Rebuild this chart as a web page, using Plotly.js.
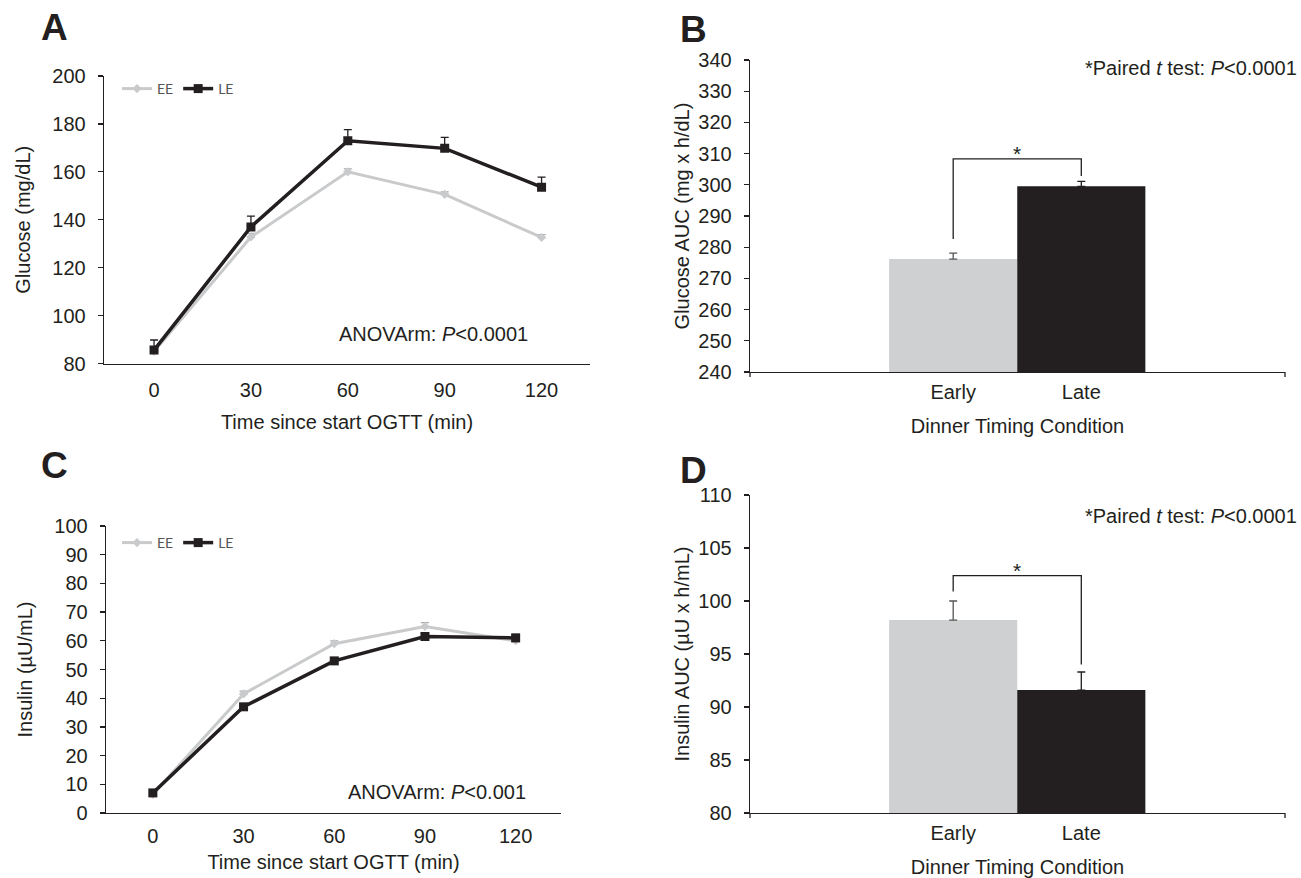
<!DOCTYPE html>
<html>
<head>
<meta charset="utf-8">
<script src="https://cdn.plot.ly/plotly-3.0.1.min.js"></script>
<style>html,body{margin:0;padding:0;background:#fff;}#chart{width:1301px;height:878px;}</style>
</head>
<body>
<div id="chart"></div>
<script>
// ---- data ----
const timeMin = [0, 30, 60, 90, 120];
const glucoseEE = [85, 132.8, 160, 150.6, 132.6];
const glucoseEEerr = [1.2, 1.5, 1.2, 1.0, 1.2];
const glucoseLE = [85.6, 137, 173, 169.8, 153.6];
const glucoseLEerr = [4.2, 4.5, 4.6, 4.6, 4.2];
const insulinEE = [6.5, 41.5, 59, 65, 60];
const insulinEEerr = [0.8, 1.0, 1.0, 1.3, 0.8];
const insulinLE = [7, 37, 53, 61.5, 61];
const insulinLEerr = [0.8, 1.0, 1.0, 1.0, 1.2];
const seriesNames = ['EE', 'LE'];
const conditions = ['Early', 'Late'];
const glucoseAUC = [276.2, 299.5];
const glucoseAUCerr = [1.9, 1.6];
const insulinAUC = [98.2, 91.6];
const insulinAUCerr = [1.8, 1.7];
// significance brackets: [top, left leg end, right leg end]
const bracketB = [308.3, 282.6, 302.8];
const bracketD = [102.4, 100.9, 94.0];

// ---- styling ----
const W = 1301, H = 878;
const INK = '#231f20';
const GRAY = '#c9cacc';
const BARGRAY = '#cfd0d2';
const FONT = 'Liberation Sans, Arial, sans-serif';
const px = v => v / W;
const py = v => 1 - v / H;

function lineTrace(y, err, name, xa, ya, leg, isLE) {
  return {
    x: timeMin, y: y, name: name, type: 'scatter', mode: 'lines+markers',
    xaxis: xa, yaxis: ya, legend: leg, showlegend: true,
    line: {color: isLE ? INK : GRAY, width: isLE ? 3.5 : 3},
    marker: {symbol: isLE ? 'square' : 'diamond', size: isLE ? 9 : 7, color: isLE ? INK : GRAY},
    error_y: {type: 'data', array: err, arrayminus: err.map(() => 0), symmetric: false,
      color: isLE ? INK : '#a9aaac', thickness: 1.3, width: 4}
  };
}
function barTrace(i, vals, errs, xa, ya) {
  return {
    x: [i + 1], y: [vals[i]], type: 'bar', width: 1, xaxis: xa, yaxis: ya, showlegend: false,
    marker: {color: i === 0 ? BARGRAY : INK, line: {width: 0}},
    error_y: {type: 'data', array: [errs[i]], arrayminus: [0], symmetric: false,
      color: i === 0 ? '#555' : INK, thickness: 1.3, width: 4}
  };
}

const traces = [
  lineTrace(glucoseEE, glucoseEEerr, seriesNames[0], 'x', 'y', 'legend', false),
  lineTrace(glucoseLE, glucoseLEerr, seriesNames[1], 'x', 'y', 'legend', true),
  barTrace(0, glucoseAUC, glucoseAUCerr, 'x2', 'y2'),
  barTrace(1, glucoseAUC, glucoseAUCerr, 'x2', 'y2'),
  lineTrace(insulinEE, insulinEEerr, seriesNames[0], 'x3', 'y3', 'legend2', false),
  lineTrace(insulinLE, insulinLEerr, seriesNames[1], 'x3', 'y3', 'legend2', true),
  barTrace(0, insulinAUC, insulinAUCerr, 'x4', 'y4'),
  barTrace(1, insulinAUC, insulinAUCerr, 'x4', 'y4')
];

const axBase = {showgrid: false, zeroline: false, showline: true, linecolor: INK, linewidth: 1.3,
  tickcolor: INK, tickwidth: 1.3, ticklen: 5, fixedrange: true};
const lineX = (dom, anchor, tl, standoff) => Object.assign({}, axBase, {
  domain: dom, anchor: anchor, range: [-15.5, 135], tickvals: timeMin, ticks: 'outside',
  tickcolor: 'rgba(0,0,0,0)', ticklen: tl,
  tickfont: {family: FONT, size: 20, color: INK},
  title: {text: 'Time since start OGTT (min)', font: {family: FONT, size: 20, color: INK}, standoff: standoff}
});
const barX = (dom, anchor, standoff) => Object.assign({}, axBase, {
  domain: dom, anchor: anchor, range: [-0.586, 3.59], tickvals: [1, 2], ticktext: conditions, ticks: 'outside',
  tickcolor: 'rgba(0,0,0,0)', ticklen: 2,
  tickfont: {family: FONT, size: 20, color: INK},
  title: {text: 'Dinner Timing Condition', font: {family: FONT, size: 20, color: INK}, standoff: standoff}
});
const yAx = (dom, anchor, range, dtick, title, standoff) => Object.assign({}, axBase, {
  domain: dom, anchor: anchor, range: range, dtick: dtick, tick0: range[0], ticks: 'outside',
  ticklabelstandoff: 8,
  tickfont: {family: FONT, size: 20, color: INK},
  title: {text: title, font: {family: FONT, size: 20, color: INK}, standoff: standoff}
});
const letter = (t, x, y) => ({text: '<b>' + t + '</b>', x: px(x), y: py(y), xref: 'paper', yref: 'paper',
  xanchor: 'center', yanchor: 'middle', showarrow: false, font: {family: FONT, size: 37, color: INK}});
const note = (t, xr, y) => ({text: t, x: px(xr), y: py(y), xref: 'paper', yref: 'paper',
  xanchor: 'right', yanchor: 'middle', showarrow: false, font: {family: FONT, size: 20, color: INK}});
const legendStyle = (y) => ({orientation: 'h', x: px(117), y: py(y), xanchor: 'left', yanchor: 'middle',
  font: {family: 'Lato, Open Sans, sans-serif', size: 14, color: '#555'}, itemwidth: 30,
  bgcolor: 'rgba(0,0,0,0)', tracegroupgap: 0, itemclick: false});

const layout = {
  width: W, height: H, margin: {l: 0, r: 0, t: 0, b: 0},
  paper_bgcolor: '#fff', plot_bgcolor: 'rgba(0,0,0,0)',
  barmode: 'overlay', showlegend: true,
  xaxis: lineX([px(104), px(590)], 'y', 8, 15),
  yaxis: yAx([py(363.5), py(76)], 'x', [80, 200], 20, 'Glucose (mg/dL)', 16),
  xaxis2: barX([px(750), px(1285)], 'y2', 16),
  yaxis2: yAx([py(372), py(60)], 'x2', [240, 340], 10, 'Glucose AUC (mg x h/dL)', 3),
  xaxis3: lineX([px(106), px(561)], 'y3', 5, 8),
  yaxis3: yAx([py(813), py(526)], 'x3', [0, 100], 10, 'Insulin (µU/mL)', 16),
  xaxis4: barX([px(750), px(1285)], 'y4', 20),
  yaxis4: yAx([py(813), py(495)], 'x4', [80, 110], 5, 'Insulin AUC (µU x h/mL)', 3),
  legend: legendStyle(89),
  legend2: legendStyle(543),
  annotations: [
    letter('A', 54, 27), letter('B', 693, 30), letter('C', 54, 465), letter('D', 693, 470),
    note('ANOVArm: <i>P</i>&lt;0.0001', 530, 334),
    note('ANOVArm: <i>P</i>&lt;0.001', 528, 792),
    note('*Paired <i>t</i> test: <i>P</i>&lt;0.0001', 1299, 68),
    note('*Paired <i>t</i> test: <i>P</i>&lt;0.0001', 1299, 516),
    {text: '*', x: 1.5, y: bracketB[0], xref: 'x2', yref: 'y2', yanchor: 'middle', yshift: 5, showarrow: false, font: {family: FONT, size: 21, color: INK}},
    {text: '*', x: 1.5, y: bracketD[0], xref: 'x4', yref: 'y4', yanchor: 'middle', yshift: 5, showarrow: false, font: {family: FONT, size: 21, color: INK}}
  ],
  shapes: [
    {type: 'path', xref: 'x2', yref: 'y2', path: `M1,${bracketB[1]} L1,${bracketB[0]} L2,${bracketB[0]} L2,${bracketB[2]}`, line: {color: INK, width: 1.3}},
    {type: 'path', xref: 'x4', yref: 'y4', path: `M1,${bracketD[1]} L1,${bracketD[0]} L2,${bracketD[0]} L2,${bracketD[2]}`, line: {color: INK, width: 1.3}},
    {type: 'line', xref: 'x2 domain', yref: 'y2 domain', x0: 1, x1: 1, y0: 0, y1: -0.016, line: {color: INK, width: 1.3}},
    {type: 'line', xref: 'x2 domain', yref: 'y2 domain', x0: 0, x1: 0, y0: 0, y1: -0.016, line: {color: INK, width: 1.3}},
    {type: 'line', xref: 'x4 domain', yref: 'y4 domain', x0: 1, x1: 1, y0: 0, y1: -0.016, line: {color: INK, width: 1.3}},
    {type: 'line', xref: 'x4 domain', yref: 'y4 domain', x0: 0, x1: 0, y0: 0, y1: -0.016, line: {color: INK, width: 1.3}}
  ]
};

Plotly.newPlot('chart', traces, layout, {staticPlot: true, displayModeBar: false});
</script>
</body>
</html>
